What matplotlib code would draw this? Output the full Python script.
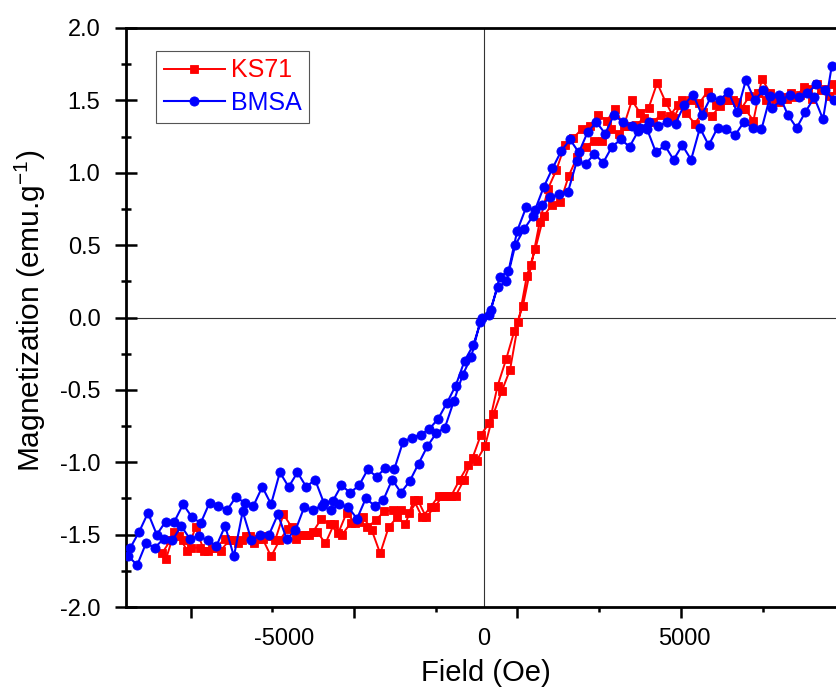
import matplotlib.pyplot as plt
import numpy as np
from matplotlib.ticker import MultipleLocator, FormatStrFormatter

plt.rcParams['font.family'] = 'Liberation Sans'
plt.rcParams['mathtext.fontset'] = 'custom'
plt.rcParams['mathtext.rm'] = 'Liberation Sans'
plt.rcParams['axes.unicode_minus'] = False

# KS71 loop: field (Oe) and magnetization (emu/g), down then up branch
ks71_h_down = [8950, 8740, 8530, 8320, 8110, 7900, 7690, 7480, 7270, 7060,
               6850, 6640, 6430, 6220, 6010, 5800, 5590, 5380, 5170, 4960,
               4750, 4540, 4330, 4120, 3910, 3700, 3490, 3280, 3070, 2860,
               2650, 2440, 2230, 2020, 1810, 1600, 1390, 1180, 970, 760,
               550, 340, 130, -80, -290, -500, -710, -920, -1130, -1340,
               -1550, -1760, -1970, -2180, -2390, -2600, -2810, -3020, -3230, -3440,
               -3650, -3860, -4070, -4280, -4490, -4700, -4910, -5120, -5330, -5540,
               -5750, -5960, -6170, -6380, -6590, -6800, -7010, -7220, -7430, -7640,
               -7850, -8060]
ks71_m_down = [1.57, 1.61, 1.58, 1.61, 1.58, 1.54, 1.55, 1.52, 1.51, 1.50,
               1.55, 1.53, 1.44, 1.50, 1.50, 1.47, 1.56, 1.48, 1.50, 1.50,
               1.38, 1.49, 1.62, 1.45, 1.41, 1.50, 1.32, 1.44, 1.36, 1.40,
               1.32, 1.30, 1.24, 1.19, 1.02, 0.89, 0.66, 0.36, 0.08, -0.09,
               -0.29, -0.47, -0.73, -0.81, -0.97, -1.12, -1.23, -1.23, -1.23, -1.31,
               -1.38, -1.26, -1.43, -1.38, -1.45, -1.63, -1.47, -1.38, -1.42, -1.35,
               -1.49, -1.43, -1.39, -1.48, -1.50, -1.53, -1.46, -1.54, -1.65, -1.53,
               -1.56, -1.51, -1.56, -1.54, -1.61, -1.59, -1.61, -1.45, -1.61, -1.51,
               -1.54, -1.63]
ks71_h_up = [-7960, -7750, -7540, -7330, -7120, -6910, -6700, -6490, -6280, -6070,
             -5860, -5650, -5440, -5230, -5020, -4810, -4600, -4390, -4180, -3970,
             -3760, -3550, -3340, -3130, -2920, -2710, -2500, -2290, -2080, -1870,
             -1660, -1450, -1240, -1030, -820, -610, -400, -190, 20, 230,
             440, 650, 860, 1070, 1280, 1490, 1700, 1910, 2120, 2330,
             2540, 2750, 2960, 3170, 3380, 3590, 3800, 4010, 4220, 4430,
             4640, 4850, 5060, 5270, 5480, 5690, 5900, 6110, 6320, 6530,
             6740, 6950, 7160, 7370, 7580, 7790, 8000, 8210, 8420, 8630,
             8840]
ks71_m_up = [-1.67, -1.48, -1.54, -1.59, -1.59, -1.61, -1.59, -1.53, -1.54, -1.54,
             -1.51, -1.53, -1.51, -1.54, -1.36, -1.45, -1.50, -1.50, -1.48, -1.56,
             -1.43, -1.50, -1.42, -1.41, -1.45, -1.40, -1.34, -1.33, -1.33, -1.35,
             -1.26, -1.38, -1.31, -1.23, -1.23, -1.12, -1.02, -0.99, -0.89, -0.67,
             -0.51, -0.36, -0.03, 0.29, 0.47, 0.70, 0.78, 0.80, 0.98, 1.11,
             1.18, 1.22, 1.22, 1.30, 1.27, 1.32, 1.33, 1.38, 1.35, 1.40,
             1.39, 1.47, 1.41, 1.34, 1.42, 1.39, 1.46, 1.50, 1.49, 1.44,
             1.36, 1.65, 1.55, 1.49, 1.51, 1.52, 1.59, 1.51, 1.57, 1.53,
             1.57]

# BMSA loop
bmsa_h_down = [8750, 8530, 8310, 8090, 7870, 7650, 7430, 7210, 6990, 6770,
               6550, 6330, 6110, 5890, 5670, 5450, 5230, 5010, 4790, 4570,
               4350, 4130, 3910, 3690, 3470, 3250, 3030, 2810, 2590, 2370,
               2150, 1930, 1710, 1490, 1270, 1050, 830, 610, 390, 170,
               -50, -270, -490, -710, -930, -1150, -1370, -1590, -1810, -2030,
               -2250, -2470, -2690, -2910, -3130, -3350, -3570, -3790, -4010, -4230,
               -4450, -4670, -4890, -5110, -5330, -5550, -5770, -5990, -6210, -6430,
               -6650, -6870, -7090, -7310, -7530, -7750, -7970, -8190, -8410, -8630,
               -8850]
bmsa_m_down = [1.50, 1.57, 1.61, 1.55, 1.52, 1.54, 1.50, 1.45, 1.57, 1.50,
               1.64, 1.42, 1.56, 1.50, 1.52, 1.40, 1.54, 1.47, 1.34, 1.35,
               1.32, 1.35, 1.31, 1.32, 1.35, 1.40, 1.27, 1.35, 1.28, 1.14,
               1.23, 1.15, 1.03, 0.90, 0.74, 0.76, 0.60, 0.32, 0.28, 0.05,
               0.00, -0.19, -0.30, -0.47, -0.59, -0.70, -0.77, -0.81, -0.83, -0.86,
               -1.05, -1.04, -1.10, -1.05, -1.16, -1.21, -1.16, -1.27, -1.28, -1.12,
               -1.17, -1.07, -1.17, -1.07, -1.29, -1.17, -1.30, -1.28, -1.24, -1.33,
               -1.30, -1.28, -1.42, -1.38, -1.29, -1.41, -1.41, -1.50, -1.35, -1.48,
               -1.59]
bmsa_h_up = [-8900, -8680, -8460, -8240, -8020, -7800, -7580, -7360, -7140, -6920,
             -6700, -6480, -6260, -6040, -5820, -5600, -5380, -5160, -4940, -4720,
             -4500, -4280, -4060, -3840, -3620, -3400, -3180, -2960, -2740, -2520,
             -2300, -2080, -1860, -1640, -1420, -1200, -980, -760, -540, -320,
             -100, 120, 340, 560, 780, 1000, 1220, 1440, 1660, 1880,
             2100, 2320, 2540, 2760, 2980, 3200, 3420, 3640, 3860, 4080,
             4300, 4520, 4740, 4960, 5180, 5400, 5620, 5840, 6060, 6280,
             6500, 6720, 6940, 7160, 7380, 7600, 7820, 8040, 8260, 8480,
             8700]
bmsa_m_up = [-1.65, -1.71, -1.56, -1.59, -1.53, -1.54, -1.44, -1.53, -1.51, -1.54,
             -1.58, -1.44, -1.65, -1.34, -1.54, -1.50, -1.50, -1.36, -1.53, -1.47,
             -1.31, -1.33, -1.30, -1.33, -1.29, -1.31, -1.39, -1.25, -1.30, -1.26,
             -1.12, -1.21, -1.13, -1.01, -0.89, -0.80, -0.76, -0.58, -0.40, -0.27,
             -0.03, 0.02, 0.21, 0.25, 0.50, 0.61, 0.70, 0.78, 0.83, 0.85,
             0.87, 1.08, 1.06, 1.13, 1.07, 1.18, 1.23, 1.18, 1.29, 1.30,
             1.14, 1.19, 1.09, 1.19, 1.09, 1.31, 1.19, 1.31, 1.30, 1.26,
             1.35, 1.31, 1.30, 1.53, 1.54, 1.40, 1.31, 1.42, 1.52, 1.37,
             1.74]

x_labels = [-5000, 0, 5000]
x_long_marks = [-7345, -3255, 835, 4925, 9015]
x_short_marks = [-5300, -1210, 2880, 6970]

fig = plt.figure(figsize=(8.37, 6.87), dpi=100)
# the right edge of the axes falls just outside the picture, as in the original
ax = fig.add_axes([126 / 837, 80 / 687, 718.4 / 837, 579 / 687])

ax.axhline(0, color='#333333', lw=0.8, zorder=1)
ax.axvline(0, color='#333333', lw=0.8, zorder=1)

ax.plot(ks71_h_down + ks71_h_up, ks71_m_down + ks71_m_up, color='#ff0000',
        lw=1.4, marker='s', ms=5.2, mew=0.6, label='KS71', zorder=3)
ax.plot(bmsa_h_down + bmsa_h_up, bmsa_m_down + bmsa_m_up, color='#0000ff',
        lw=1.5, marker='o', ms=6.6, mew=0.6, label='BMSA', zorder=4)

ax.set_xlim(-8960, 9000)
ax.set_ylim(-2, 2)

for s in ax.spines.values():
    s.set_linewidth(2.0)

ax.yaxis.set_major_locator(MultipleLocator(0.5))
ax.yaxis.set_minor_locator(MultipleLocator(0.25))
ax.yaxis.set_major_formatter(FormatStrFormatter('%.1f'))
ax.tick_params(axis='y', which='major', direction='inout', length=15.8,
               width=1.8, pad=10.5, labelsize=17)
ax.tick_params(axis='y', which='minor', direction='inout', length=7.9, width=1.8)

ax.set_xticks(x_long_marks)
ax.set_xticks(x_short_marks, minor=True)
ax.tick_params(axis='x', which='major', direction='out', length=7.9,
               width=1.8, labelbottom=False)
ax.tick_params(axis='x', which='minor', direction='out', length=3.6, width=1.8)
for v in x_labels:
    ax.text(v, -0.036, str(v), transform=ax.get_xaxis_transform(),
            ha='center', va='top', fontsize=17)

ax.set_xlabel('Field (Oe)', fontsize=21)
ax.xaxis.set_label_coords(0.501, -0.089)
ax.set_ylabel(r'Magnetization (emu.g$^{-1}$)', fontsize=21.5)
ax.yaxis.set_label_coords(-0.108, 0.511)

leg = ax.legend(loc='upper left', bbox_to_anchor=(0.0418, 0.9603),
                borderaxespad=0, fontsize=18, handlelength=2.45,
                handletextpad=0.25, labelspacing=0.35, borderpad=0.3,
                fancybox=False, framealpha=1, edgecolor='#555555',
                labelcolor='linecolor')
leg.get_frame().set_linewidth(0.8)

fig.savefig('out.png', dpi=100)
